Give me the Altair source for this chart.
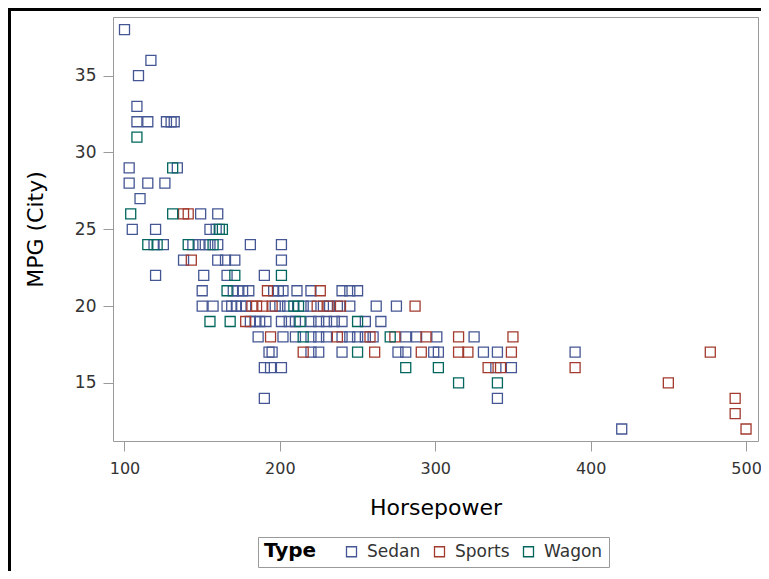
import altair as alt
import pandas as pd

# --- data (Horsepower, MPG City) ---
sedan_hp = [100, 117, 109, 108,
            108, 115, 127, 130, 132,
            103, 134,
            103, 115, 126,
            110,
            149, 160,
            105, 120, 155, 159,
            119, 125, 144, 148, 152, 155, 160, 181, 201,
            138, 160, 165, 171, 201,
            120, 151, 166, 190,
            150, 170, 173, 176, 180, 196, 199, 202, 211, 220, 240, 245, 250,
            150, 157, 166, 169, 172, 175, 178, 197, 200, 205, 215, 220, 228, 232, 237, 245, 262, 275,
            181, 184, 187, 191, 201, 206, 210, 220, 225, 230, 235, 240, 255, 265,
            186, 202, 210, 220, 225, 230, 240, 245, 250, 255, 260, 281, 288, 301, 325,
            193, 195, 220, 225, 240, 276, 281, 299, 302, 331, 340, 390,
            190, 194, 201, 339, 349,
            190, 340,
            420]
sedan_mpg = [38, 36, 35, 33,
             32, 32, 32, 32, 32,
             29, 29,
             28, 28, 28,
             27,
             26, 26,
             25, 25, 25, 25,
             24, 24, 24, 24, 24, 24, 24, 24, 24,
             23, 23, 23, 23, 23,
             22, 22, 22, 22,
             21, 21, 21, 21, 21, 21, 21, 21, 21, 21, 21, 21, 21,
             20, 20, 20, 20, 20, 20, 20, 20, 20, 20, 20, 20, 20, 20, 20, 20, 20, 20,
             19, 19, 19, 19, 19, 19, 19, 19, 19, 19, 19, 19, 19, 19,
             18, 18, 18, 18, 18, 18, 18, 18, 18, 18, 18, 18, 18, 18, 18,
             17, 17, 17, 17, 17, 17, 17, 17, 17, 17, 17, 17,
             16, 16, 16, 16, 16,
             14, 14,
             12]

sports_hp = [138, 141,
             143,
             192, 226,
             182, 185, 189, 195, 224, 231, 239, 287,
             178,
             194, 237, 258, 274, 294, 315, 350,
             215, 261, 291, 315, 321, 349, 477,
             334, 342, 390,
             450,
             493,
             493,
             500]
sports_mpg = [26, 26,
              23,
              21, 21,
              20, 20, 20, 20, 20, 20, 20, 20,
              19,
              18, 18, 18, 18, 18, 18, 18,
              17, 17, 17, 17, 17, 17, 17,
              16, 16, 16,
              15,
              14,
              13,
              12]

wagon_hp = [108,
            131,
            104, 131,
            161, 163,
            115, 121, 141, 157,
            171, 201,
            166,
            209, 212,
            155, 168, 213, 250,
            215, 271,
            250,
            281, 302,
            315, 340]
wagon_mpg = [31,
             29,
             26, 26,
             25, 25,
             24, 24, 24, 24,
             22, 22,
             21,
             20, 20,
             19, 19, 19, 19,
             18, 18,
             17,
             16, 16,
             15, 15]

types = ["Sedan", "Sports", "Wagon"]
colors = ["#445694", "#A23A2E", "#01665E"]
x_ticks = [100, 200, 300, 400, 500]
y_ticks = [15, 20, 25, 30, 35]

df = pd.concat([
    pd.DataFrame({"Horsepower": sedan_hp, "MPG": sedan_mpg, "Type": "Sedan", "o": 0}),
    pd.DataFrame({"Horsepower": sports_hp, "MPG": sports_mpg, "Type": "Sports", "o": 1}),
    pd.DataFrame({"Horsepower": wagon_hp, "MPG": wagon_mpg, "Type": "Wagon", "o": 2}),
], ignore_index=True)

FONT = "DejaVu Sans"
GRAY = "#9a9a9a"

W, H = 645, 424
PAD_L, PAD_T = 105, 9
TOTAL_W, TOTAL_H = 753, 563

points = alt.Chart(df).mark_point(
    shape="square", filled=False, size=100, strokeWidth=1.3, opacity=1
).encode(
    x=alt.X("Horsepower:Q", title="Horsepower",
            scale=alt.Scale(domain=[92.6, 507.7], nice=False, zero=False),
            axis=alt.Axis(values=x_ticks, labelPadding=9, titlePadding=21,
                          labelFontSize=16)),
    y=alt.Y("MPG:Q", title="MPG (City)",
            scale=alt.Scale(domain=[11.22, 38.82], nice=False, zero=False),
            axis=alt.Axis(values=y_ticks, labelPadding=7, titlePadding=27)),
    color=alt.Color("Type:N", scale=alt.Scale(domain=types, range=colors),
                    legend=alt.Legend(
                        title="Type", orient="none", direction="horizontal",
                        legendX=145, legendY=520, titleOrient="left",
                        titleFontSize=20, titleFontWeight="bold", titleFont=FONT,
                        titleColor="black", titlePadding=26,
                        labelFontSize=17, labelFont=FONT, labelColor="#333333",
                        labelOffset=7, columnPadding=10,
                        symbolType="square", symbolSize=100, symbolStrokeWidth=1.3,
                        symbolFillColor="transparent",
                        strokeColor=GRAY, padding=6, fillColor="white")),
    order=alt.Order("o:Q"),
)

left_border = alt.Chart(df).mark_rule(color="black", strokeWidth=3).encode(
    x=alt.value(-PAD_L + 1.5), y=alt.value(-PAD_T), y2=alt.value(TOTAL_H - PAD_T)
)
top_border = alt.Chart(df).mark_rule(color="black", strokeWidth=3).encode(
    y=alt.value(-PAD_T + 1.5), x=alt.value(-PAD_L), x2=alt.value(TOTAL_W - PAD_L)
)

chart = alt.layer(points, left_border, top_border).properties(
    width=W, height=H,
    autosize=alt.AutoSizeParams(type="none"),
    padding={"left": PAD_L, "top": PAD_T, "right": TOTAL_W - PAD_L - W,
             "bottom": TOTAL_H - PAD_T - H},
    background="white",
).configure_view(
    stroke=GRAY, strokeWidth=1
).configure_axis(
    domain=False, grid=False, ticks=True, tickColor=GRAY, tickSize=10,
    labelFont=FONT, labelFontSize=17, labelColor="#333333",
    titleFont=FONT, titleFontSize=22, titleFontWeight="normal", titleColor="black",
)

chart.save("out.html", embed_options={"renderer": "svg", "actions": False})
